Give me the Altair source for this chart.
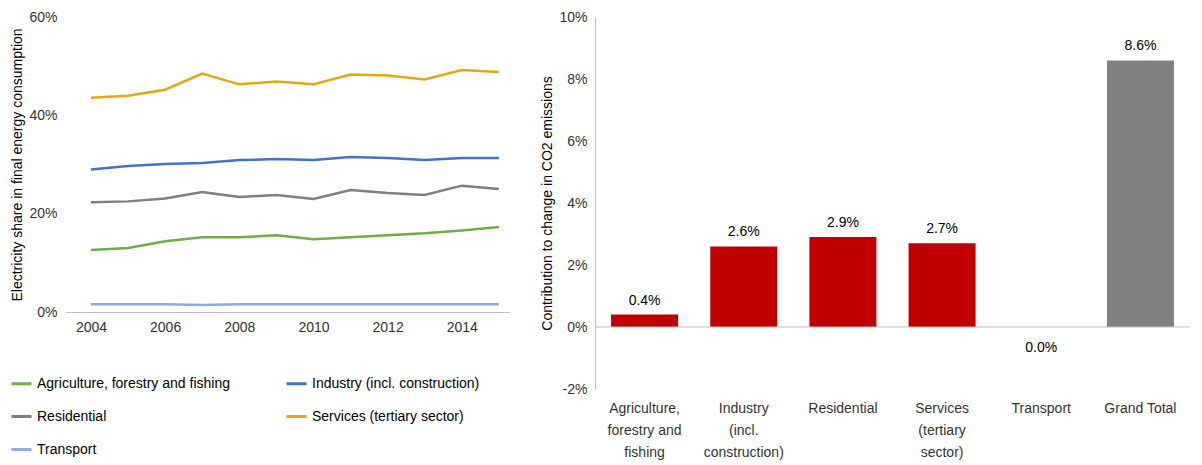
import altair as alt
import pandas as pd

years = list(range(2004, 2016))
agri = [12.6, 13.0, 14.4, 15.2, 15.2, 15.6, 14.8, 15.2, 15.6, 16.0, 16.6, 17.3]
indu = [29.0, 29.7, 30.1, 30.3, 30.9, 31.1, 30.9, 31.5, 31.3, 30.9, 31.3, 31.3]
resi = [22.3, 22.5, 23.1, 24.4, 23.4, 23.8, 23.0, 24.8, 24.2, 23.8, 25.7, 25.0]
serv = [43.6, 44.0, 45.2, 48.5, 46.3, 46.9, 46.3, 48.3, 48.1, 47.3, 49.2, 48.8]
tran = [1.6, 1.6, 1.6, 1.4, 1.6, 1.6, 1.6, 1.6, 1.6, 1.6, 1.6, 1.6]
series = ["Agriculture, forestry and fishing", "Industry (incl. construction)",
          "Residential", "Services (tertiary sector)", "Transport"]
colors = ["#70AD47", "#4472C4", "#7F7F7F", "#E3A712", "#8FAADC"]

bar_cats = ["Agriculture,|forestry and|fishing", "Industry|(incl.|construction)",
            "Residential", "Services|(tertiary|sector)", "Transport", "Grand Total"]
bar_vals = [0.4, 2.6, 2.9, 2.7, 0.0, 8.6]
bar_cols = ["#C00000"] * 5 + ["#808080"]

rows = []
for name, vals in zip(series, [agri, indu, resi, serv, tran]):
    for y, v in zip(years, vals):
        rows.append({"year": y, "series": name, "value": v / 100})
ldf = pd.DataFrame(rows)

pct = "replace(format(datum.value, '.0%'), '\u2212', '-')"

left = alt.Chart(ldf).mark_line(strokeWidth=2.5).encode(
    x=alt.X("year:Q", scale=alt.Scale(domain=[2003.3, 2015.3], nice=False),
            axis=alt.Axis(values=list(range(2004, 2016, 2)), format="d", title=None,
                          grid=False, ticks=False, domainColor="#bfbfbf", labelPadding=8)),
    y=alt.Y("value:Q", scale=alt.Scale(domain=[0, 0.6]),
            axis=alt.Axis(labelExpr=pct, values=[0, 0.2, 0.4, 0.6], grid=False, domain=False,
                          ticks=False, labelPadding=8,
                          title="Electricity share in final energy consumption")),
    color=alt.Color("series:N", scale=alt.Scale(domain=series, range=colors),
                    legend=alt.Legend(orient="none", legendX=-55, legendY=355, direction="horizontal",
                                      columns=2, title=None,
                                      symbolType="stroke", symbolStrokeWidth=3, symbolSize=400,
                                      columnPadding=50, rowPadding=14, labelLimit=300)),
).properties(width=445, height=295)

bdf = pd.DataFrame({"cat": bar_cats, "val": [v / 100 for v in bar_vals], "col": bar_cols,
                    "lbl": [f"{v:.1f}%" for v in bar_vals]})
base = alt.Chart(bdf)
bars = base.mark_bar(size=67).encode(
    x=alt.X("cat:N", sort=bar_cats, axis=alt.Axis(title=None, labelExpr="split(datum.label, '|')",
                                                  labelAngle=0, ticks=False, domain=False,
                                                  labelPadding=12, labelLineHeight=22)),
    y=alt.Y("val:Q", scale=alt.Scale(domain=[-0.02, 0.10]),
            axis=alt.Axis(labelExpr=pct, values=[-0.02, 0, 0.02, 0.04, 0.06, 0.08, 0.10], grid=False,
                          ticks=False, domainColor="#bfbfbf", labelPadding=8,
                          title="Contribution to change in CO2 emissions")),
    color=alt.Color("col:N", scale=None),
)
zero = alt.Chart(pd.DataFrame({"z": [0]})).mark_rule(color="#bfbfbf").encode(y="z:Q")
txt_pos = base.transform_filter("datum.val > 0").mark_text(baseline="bottom", dy=-7, fontSize=14).encode(
    x=alt.X("cat:N", sort=bar_cats), y="val:Q", text="lbl:N")
txt_zero = base.transform_filter("datum.val <= 0").mark_text(baseline="top", dy=14, fontSize=14).encode(
    x=alt.X("cat:N", sort=bar_cats), y="val:Q", text="lbl:N")
right = alt.layer(bars, zero, txt_pos, txt_zero).properties(width=595, height=372)

chart = alt.hconcat(left, right, spacing=30).configure(
    font="Liberation Sans", padding=2
).configure_axis(labelFontSize=14, titleFontSize=14, titleFontWeight="normal",
                 labelColor="#333", titleColor="#000"
).configure_legend(labelFontSize=14).configure_view(stroke=None)

chart.save("out.html", embed_options={"renderer": "svg", "actions": False})
